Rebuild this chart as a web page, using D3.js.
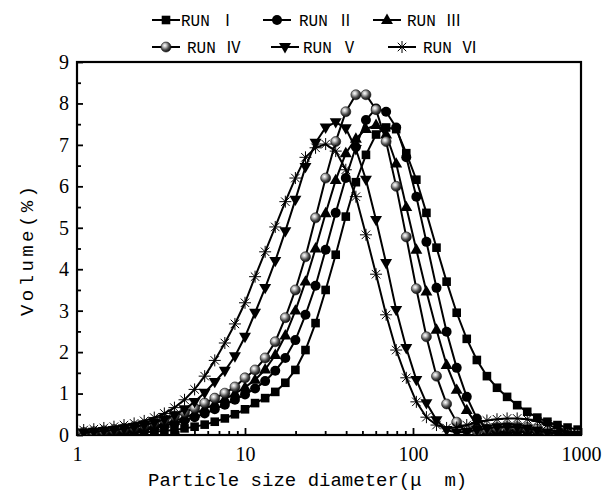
<!DOCTYPE html>
<html><head><meta charset="utf-8">
<script src="https://cdn.jsdelivr.net/npm/d3@7"></script>
<style>body{margin:0;background:#fff}</style>
</head><body>
<svg id="c" width="606" height="493" xmlns="http://www.w3.org/2000/svg"></svg>
<script>
// Particle size classes (µm)
const sizes = [1.096,1.259,1.445,1.660,1.905,2.188,2.512,2.884,3.311,3.802,4.365,5.012,5.754,6.607,7.586,8.710,
  10.00,11.48,13.18,15.14,17.38,19.95,22.91,26.30,30.20,34.67,39.81,45.71,52.48,60.26,69.18,79.43,91.20,
  104.7,120.2,138.0,158.5,182.0,208.9,239.9,275.4,316.2,363.1,416.9,478.6,549.5,631.0,724.4,831.8,955.0];

const run1 = [0.03,0.03,0.04,0.05,0.05,0.06,0.07,0.08,0.1,0.12,0.16,0.2,0.25,0.32,0.4,0.5,
  0.62,0.77,0.89,1.04,1.26,1.57,2.05,2.7,3.5,4.35,5.27,6.1,6.76,7.25,7.42,7.38,
  6.8,6.16,5.36,4.52,3.7,2.95,2.32,1.81,1.42,1.14,0.92,0.72,0.56,0.42,0.32,0.24,0.18,0.13];
const run2 = [0.04,0.05,0.06,0.07,0.08,0.1,0.13,0.17,0.22,0.28,0.35,0.43,0.52,0.62,0.73,0.85,
  0.98,1.12,1.3,1.55,1.86,2.29,2.9,3.6,4.47,5.36,6.2,6.95,7.6,7.88,7.8,7.42,
  6.7,5.75,4.66,3.55,2.49,1.62,0.92,0.4,0.15,0.06,0.05,0.07,0.09,0.08,0.06,0.03,0.02,0.01];
const run3 = [0.05,0.06,0.07,0.08,0.1,0.13,0.16,0.21,0.27,0.34,0.42,0.52,0.63,0.75,0.87,1.0,
  1.15,1.33,1.58,1.93,2.4,3.0,3.7,4.5,5.35,6.15,6.8,7.15,7.38,7.48,7.25,6.55,
  5.5,4.47,3.46,2.54,1.69,1.09,0.6,0.25,0.1,0.06,0.1,0.14,0.15,0.13,0.09,0.05,0.02,0.01];
const run4 = [0.06,0.08,0.1,0.13,0.16,0.2,0.25,0.31,0.38,0.46,0.55,0.65,0.77,0.89,1.01,1.16,
  1.38,1.57,1.86,2.25,2.83,3.5,4.3,5.24,6.2,7.08,7.8,8.21,8.21,7.85,7.08,6.0,
  4.78,3.53,2.37,1.42,0.75,0.31,0.12,0.1,0.14,0.18,0.2,0.2,0.18,0.14,0.09,0.05,0.02,0.01];
const run5 = [0.06,0.08,0.1,0.12,0.15,0.19,0.24,0.3,0.38,0.48,0.62,0.8,1.02,1.28,1.55,1.9,
  2.37,2.95,3.55,4.2,4.92,5.68,6.47,7.05,7.42,7.55,7.4,6.9,6.16,5.19,4.15,3.02,
  2.1,1.33,0.77,0.36,0.12,0.06,0.08,0.12,0.16,0.19,0.2,0.19,0.16,0.11,0.06,0.03,0.01,0.0];
const run6 = [0.12,0.14,0.17,0.2,0.24,0.28,0.34,0.42,0.52,0.66,0.85,1.1,1.42,1.8,2.22,2.68,
  3.19,3.82,4.42,5.02,5.63,6.2,6.7,6.93,7.02,6.85,6.4,5.75,4.83,3.88,2.9,2.05,
  1.38,0.8,0.43,0.24,0.17,0.18,0.24,0.3,0.35,0.38,0.4,0.4,0.38,0.33,0.25,0.16,0.08,0.03];

const seriesNames = ["RUN Ⅰ", "RUN Ⅱ", "RUN Ⅲ", "RUN Ⅳ", "RUN Ⅴ", "RUN Ⅵ"];
const markerTypes = ["square", "circle", "triangle", "ball", "down", "star"];
const xTickLabels = [1, 10, 100, 1000];
const yTickLabels = [0, 1, 2, 3, 4, 5, 6, 7, 8, 9];
const xTitle = "Particle size diameter(μ  m)";
const yTitle = "Volume(%)";

const allRuns = [run1, run2, run3, run4, run5, run6];

const svg = d3.select("#c");
const L = 77, R = 581, T = 62, B = 435;
const x = d3.scaleLog().domain([1, 1000]).range([L, R]);
const y = d3.scaleLinear().domain([0, 9]).range([B, T]);

const defs = svg.append("defs");
const grad = defs.append("radialGradient").attr("id", "ball").attr("cx", "38%").attr("cy", "35%").attr("r", "65%");
grad.append("stop").attr("offset", "0%").attr("stop-color", "#ffffff");
grad.append("stop").attr("offset", "25%").attr("stop-color", "#c8c8c8");
grad.append("stop").attr("offset", "65%").attr("stop-color", "#505050");
grad.append("stop").attr("offset", "100%").attr("stop-color", "#101010");
defs.append("clipPath").attr("id", "clip").append("rect")
  .attr("x", L).attr("y", T - 10).attr("width", R - L).attr("height", B - T + 10);

const serif = "'Liberation Serif','Times New Roman',serif";
const mono = "'Liberation Mono','DejaVu Sans Mono',monospace";

// minor/major ticks
const minorX = [];
[1, 10, 100].forEach(d => { for (let k = 2; k <= 9; k++) minorX.push(d * k); });
const gx = svg.append("g").attr("transform", `translate(0,${B})`);
gx.call(d3.axisBottom(x).tickValues(minorX).tickSizeInner(-4).tickSizeOuter(0).tickFormat(""));
gx.call(g => g.select(".domain").remove());
const gx2 = svg.append("g").attr("transform", `translate(0,${B})`);
gx2.call(d3.axisBottom(x).tickValues(xTickLabels).tickSizeInner(-7).tickSizeOuter(0).tickPadding(12).tickFormat(d3.format("d")));
gx2.select(".domain").remove();
gx2.selectAll("text").attr("font-family", serif).attr("font-size", 20).attr("fill", "#000");

const minorY = d3.range(0.5, 9, 1);
const gy = svg.append("g").attr("transform", `translate(${L},0)`);
gy.call(d3.axisLeft(y).tickValues(minorY).tickSizeInner(-4).tickSizeOuter(0).tickFormat(""));
gy.select(".domain").remove();
const gy2 = svg.append("g").attr("transform", `translate(${L},0)`);
gy2.call(d3.axisLeft(y).tickValues(yTickLabels).tickSizeInner(-6).tickSizeOuter(0).tickPadding(8).tickFormat(d3.format("d")));
gy2.select(".domain").remove();
gy2.selectAll("text").attr("font-family", serif).attr("font-size", 20).attr("fill", "#000");
svg.selectAll(".tick line").attr("stroke", "#000").attr("stroke-width", 1.8);

// frame
svg.append("rect").attr("x", L).attr("y", T).attr("width", R - L).attr("height", B - T)
  .attr("fill", "none").attr("stroke", "#000").attr("stroke-width", 2.2);

// marker drawing
function drawMarker(g, type, cx, cy) {
  if (type === "square") {
    g.append("rect").attr("x", cx - 4.3).attr("y", cy - 4.3).attr("width", 8.6).attr("height", 8.6).attr("fill", "#000");
  } else if (type === "circle") {
    g.append("circle").attr("cx", cx).attr("cy", cy).attr("r", 5).attr("fill", "#000");
  } else if (type === "triangle") {
    g.append("path").attr("d", d3.symbol(d3.symbolTriangle, 62)()).attr("transform", `translate(${cx},${cy + 0.5})`).attr("fill", "#000");
  } else if (type === "down") {
    g.append("path").attr("d", d3.symbol(d3.symbolTriangle, 62)()).attr("transform", `translate(${cx},${cy - 0.5}) rotate(180)`).attr("fill", "#000");
  } else if (type === "ball") {
    g.append("circle").attr("cx", cx).attr("cy", cy).attr("r", 5).attr("fill", "url(#ball)").attr("stroke", "#111").attr("stroke-width", 0.6);
  } else if (type === "star") {
    const r = 6;
    [0, 45, 90, 135].forEach(a => {
      const rad = a * Math.PI / 180;
      g.append("line").attr("x1", cx - r * Math.cos(rad)).attr("y1", cy - r * Math.sin(rad))
        .attr("x2", cx + r * Math.cos(rad)).attr("y2", cy + r * Math.sin(rad))
        .attr("stroke", "#000").attr("stroke-width", 1);
    });
  }
}

const line = d3.line().x(d => x(d[0])).y(d => y(d[1]));
const plot = svg.append("g").attr("clip-path", "url(#clip)");
allRuns.forEach((vals, i) => {
  const pts = sizes.map((s, j) => [s, vals[j]]);
  const g = plot.append("g");
  g.append("path").attr("d", line(pts)).attr("fill", "none").attr("stroke", "#000").attr("stroke-width", 2);
  pts.forEach(p => drawMarker(g, markerTypes[i], x(p[0]), y(p[1])));
});

// legend
const legendPos = [[152, 20], [263, 20], [373, 20], [152, 47], [271, 47], [388, 47]];
const legendTextX = [181, 299, 407, 187, 303, 423];
legendPos.forEach((p, i) => {
  const g = svg.append("g");
  g.append("line").attr("x1", p[0]).attr("x2", p[0] + 28).attr("y1", p[1]).attr("y2", p[1])
    .attr("stroke", "#000").attr("stroke-width", 2);
  drawMarker(g, markerTypes[i], p[0] + 14, p[1]);
  g.append("text").attr("x", legendTextX[i]).attr("y", p[1] + 6)
    .attr("font-family", "'Liberation Mono','Noto Sans CJK SC',monospace").attr("font-size", 16)
    .attr("fill", "#000").text(seriesNames[i]);
});

// axis titles
svg.append("text").attr("x", 148).attr("y", 486).attr("font-family", mono).attr("font-size", 19)
  .attr("fill", "#000").style("white-space", "pre").text(xTitle);
svg.append("text").attr("transform", "translate(33,251) rotate(-90)").attr("text-anchor", "middle")
  .attr("font-family", mono).attr("font-size", 19).attr("fill", "#000")
  .attr("textLength", 130).attr("lengthAdjust", "spacing").text(yTitle);
</script>
</body></html>
